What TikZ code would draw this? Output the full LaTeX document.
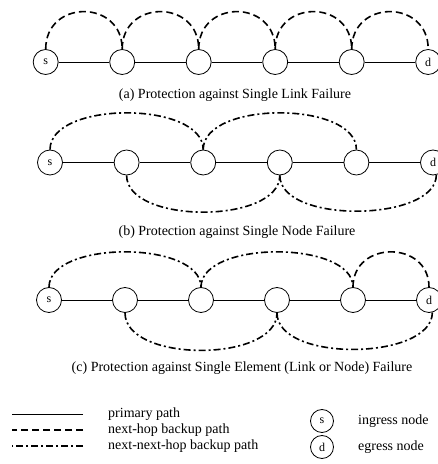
\documentclass[tikz,border=0pt]{standalone}
\usepackage{fontspec}
\setmainfont{Liberation Serif}
\usetikzlibrary{positioning}

\tikzset{
  router/.style={circle, draw, line width=0.8pt, minimum size=25pt, inner sep=0pt,
    font=\fontsize{12}{14}\selectfont},
  primary/.style={line width=0.8pt},
  nexthop/.style={line width=1.6pt, dash pattern=on 7pt off 4pt},
  nnexthop/.style={line width=1.6pt, dash pattern=on 7pt off 3pt on 2pt off 3pt},
  caption/.style={font=\fontsize{14}{16}\selectfont},
  keytext/.style={anchor=west, inner sep=0pt, font=\fontsize{14}{16}\selectfont}
}

\begin{document}
\begin{tikzpicture}[x=1pt,y=1pt]
\useasboundingbox (0,0) rectangle (438,464);

% (a) Single link failure
\foreach \i/\t in {0/s,1/,2/,3/,4/,5/d}
  \node[router] (a\i) at ({45.7+76.5*\i},402) {\t};
\foreach \i [count=\j from 1] in {0,...,4} {
  \draw[primary] (a\i) -- (a\j);
  \draw[nexthop] (a\i.north) .. controls +(0,50) and +(0,50) .. (a\j.north);
}
\node[caption] (capa) at (235,369) {(a) Protection against Single Link Failure};

% (b) Single node failure
\foreach \i/\t in {0/s,1/,2/,3/,4/,5/d}
  \node[router] (b\i) at ({50+76.6*\i},301.5) {\t};
\foreach \i [count=\j from 1] in {0,...,4}
  \draw[primary] (b\i) -- (b\j);
\draw[nnexthop] (b0.north) .. controls +(0,49) and +(0,49) .. (b2.north);
\draw[nnexthop] (b2.north) .. controls +(0,49) and +(0,49) .. (b4.north);
\draw[nnexthop] (b1.south) .. controls +(0,-49) and +(0,-49) .. (b3.south);
\draw[nnexthop] (b3.south) .. controls +(0,-49) and +(0,-47) .. (b5.-75);
\node[caption] (capb) at (237,232) {(b) Protection against Single Node Failure};

% (c) Single element failure
\foreach \i/\t in {0/s,1/,2/,3/,4/,5/d}
  \node[router] (c\i) at ({49+76*\i},164) {\t};
\foreach \i [count=\j from 1] in {0,...,4}
  \draw[primary] (c\i) -- (c\j);
\draw[nnexthop] (c0.north) .. controls +(0,47) and +(0,47) .. (c2.north);
\draw[nnexthop] (c2.north) .. controls +(0,47) and +(0,47) .. (c4.north);
\draw[nexthop] (c4.north) .. controls +(0,47) and +(0,47) .. (c5.north);
\draw[nnexthop] (c1.south) .. controls +(0,-50) and +(0,-50) .. (c3.south);
\draw[nnexthop] (c3.south) .. controls +(0,-50) and +(0,-48) .. (c5.-75);
\node[caption] (capc) at (242,96) {(c) Protection against Single Element (Link or Node) Failure};

% Legend
\node[keytext] (kprim) at (108,50) {primary path};
\node[keytext] (khop) at (108,34) {next-hop backup path};
\node[keytext] (knhop) at (108,18) {next-next-hop backup path};
\draw[primary] ([xshift=-25pt]kprim.west) -- ++(-71,0);
\draw[nexthop] ([xshift=-25pt]khop.west) -- ++(-71,0);
\draw[nnexthop] ([xshift=-25pt]knhop.west) -- ++(-71,0);
\node[router, minimum size=23pt] (ks) at (322,43) {s};
\node[keytext] (kin) at (358,43) {ingress node};
\node[router, minimum size=23pt] (kd) at (322,17) {d};
\node[keytext] (keg) at (358,17) {egress node};

\end{tikzpicture}
\end{document}
